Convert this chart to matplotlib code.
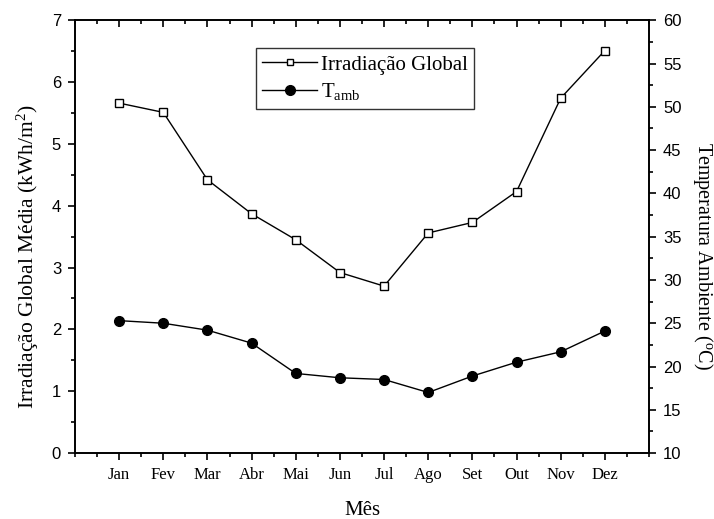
import matplotlib
matplotlib.use("Agg")
import matplotlib.pyplot as plt
from matplotlib.ticker import MultipleLocator

months = ["Jan", "Fev", "Mar", "Abr", "Mai", "Jun", "Jul", "Ago", "Set", "Out", "Nov", "Dez"]
irradiacao = [5.66, 5.51, 4.42, 3.87, 3.45, 2.92, 2.70, 3.56, 3.73, 4.23, 5.74, 6.51]
t_amb = [25.3, 25.0, 24.2, 22.7, 19.2, 18.7, 18.5, 17.0, 18.9, 20.5, 21.7, 24.1]

plt.rcParams['mathtext.fontset'] = 'custom'
plt.rcParams['mathtext.rm'] = 'Liberation Serif'
plt.rcParams['mathtext.it'] = 'Liberation Serif:italic'
serif = ['Liberation Serif', 'DejaVu Serif']
sans = ['Liberation Sans', 'DejaVu Sans']

fig = plt.figure(figsize=(7.14, 5.19), dpi=100)
ax = fig.add_axes([0.105, 0.127, 0.804, 0.834])
ax2 = ax.twinx()

x = list(range(1, len(months) + 1))
l1, = ax.plot(x, irradiacao, color='black', lw=1, marker='s', ms=6,
              mfc='white', mec='black', mew=1, label='Irradiação Global')
l2, = ax2.plot(x, t_amb, color='black', lw=1, marker='o', ms=7,
               mfc='black', mec='black', label=r'T$_{\mathrm{amb}}$')

ax.set_xlim(0, 13)
ax.set_ylim(0, 7)
ax2.set_ylim(10, 60)
ax.set_xticks(x)
ax.set_xticklabels(months, fontfamily=serif, fontsize=12)
ax.xaxis.set_minor_locator(MultipleLocator(0.5))
ax.yaxis.set_major_locator(MultipleLocator(1))
ax.yaxis.set_minor_locator(MultipleLocator(0.5))
ax2.yaxis.set_major_locator(MultipleLocator(5))
ax2.yaxis.set_minor_locator(MultipleLocator(2.5))

for a in (ax, ax2):
    for s in a.spines.values():
        s.set_linewidth(1.2)

ax.tick_params(axis='x', which='major', direction='out', length=5, width=1.2, top=True, pad=5)
ax.tick_params(axis='x', which='minor', direction='out', length=3, width=1.2, top=True)
ax.tick_params(axis='y', which='major', direction='out', length=5, width=1.2, labelsize=12, pad=5)
ax.tick_params(axis='y', which='minor', direction='out', length=3, width=1.2)
ax2.tick_params(axis='y', which='major', direction='out', length=5, width=1.2, labelsize=12, pad=5)
ax2.tick_params(axis='y', which='minor', direction='out', length=3, width=1.2)
# top ticks point inward
for t in ax.xaxis.get_major_ticks() + ax.xaxis.get_minor_ticks():
    t.tick2line.set_marker(matplotlib.lines.TICKDOWN)
for lab in ax.get_yticklabels() + ax2.get_yticklabels():
    lab.set_fontfamily(sans)

ax.set_xlabel('Mês', fontfamily=serif, fontsize=15, labelpad=13)
ax.set_ylabel('Irradiação Global Média (kWh/m$^2$)', fontfamily=serif, fontsize=15.5, labelpad=8)
ax2.set_ylabel(r'Temperatura Ambiente ($^{\mathrm{o}}$C)', fontfamily=serif, fontsize=14.5,
               rotation=270, labelpad=24)
ax.yaxis.label.set_y(0.455)
ax2.yaxis.label.set_y(0.455)

leg = ax.legend(handles=[l1, l2], loc='upper left', bbox_to_anchor=(0.315, 0.935),
                prop={'family': serif, 'size': 15}, frameon=True, fancybox=False,
                edgecolor='black', handlelength=2.6, borderpad=0.32, labelspacing=0.3,
                handletextpad=0.2, borderaxespad=0)
leg.get_frame().set_linewidth(1)
hs = leg.legend_handles
hs[0].set_markersize(4.5)
hs[1].set_markersize(7)

fig.savefig('out.png', dpi=100)
